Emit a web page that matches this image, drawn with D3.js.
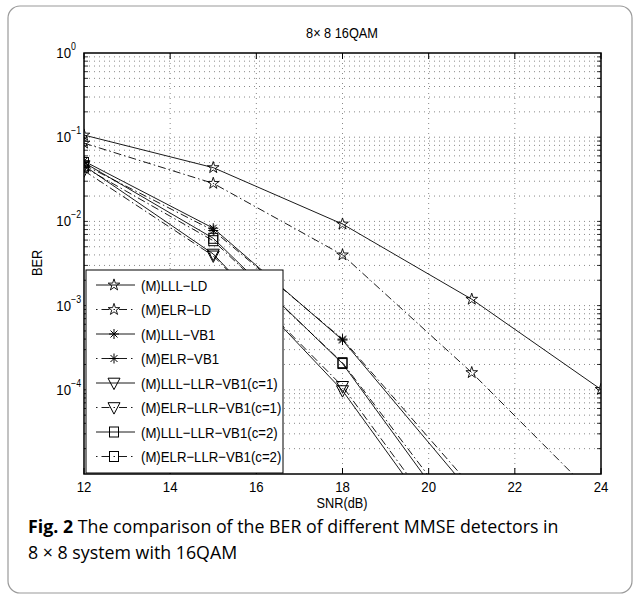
<!DOCTYPE html>
<html>
<head>
<meta charset="utf-8">
<script src="https://cdnjs.cloudflare.com/ajax/libs/d3/7.8.5/d3.min.js"></script>
<style>
  body { margin: 0; background: #fff; }
  svg text { font-family: "Liberation Sans", Arial, sans-serif; }
  svg text.cap { font-family: "Open Sans", "Noto Sans", sans-serif; }
</style>
</head>
<body>
<div class="canvas"></div>
<script>
var width = 635,
    height = 599;

// SNR points (dB)
var snr = [12, 15, 18, 21, 24];

// BER values
var lllLD      = [0.106, 0.0435, 0.0093, 0.00119, 1.01e-4];
var elrLD      = [0.085, 0.0283, 0.0040, 1.6e-4, 4.6e-6];
var lllVB1     = [0.052, 0.0083, 3.9e-4, 5.8e-6, 1e-7];
var elrVB1     = [0.047, 0.0078, 4.0e-4, 7.0e-6, 1e-7];
var lllLLRc1   = [0.046, 0.0041, 9.8e-5, 7.4e-7, 1e-8];
var elrLLRc1   = [0.040, 0.0039, 1.1e-4, 9.0e-7, 1e-8];
var lllLLRc2   = [0.050, 0.0063, 2.05e-4, 1.6e-6, 1e-8];
var elrLLRc2   = [0.044, 0.0059, 2.1e-4, 2.0e-6, 1e-8];

var names = ["(M)LLL\u2212LD", "(M)ELR\u2212LD", "(M)LLL\u2212VB1", "(M)ELR\u2212VB1",
             "(M)LLL\u2212LLR\u2212VB1(c=1)", "(M)ELR\u2212LLR\u2212VB1(c=1)",
             "(M)LLL\u2212LLR\u2212VB1(c=2)", "(M)ELR\u2212LLR\u2212VB1(c=2)"];
var series = [lllLD, elrLD, lllVB1, elrVB1, lllLLRc1, elrLLRc1, lllLLRc2, elrLLRc2];
var markers = ["star", "star", "asterisk", "asterisk", "tri", "tri", "square", "square"];
var dashed = [false, true, false, true, false, true, false, true];

var xTicks = [12, 14, 16, 18, 20, 22, 24];
var yTicks = [-4, -3, -2, -1, 0];

var svg = d3.select(".canvas").append("svg")
    .attr("width", width)
    .attr("height", height);

// condensed helper text (figure font looks narrow)
function ntext(g, tx, ty, size, str, anchor) {
    return g.append("text")
        .attr("transform", "translate(" + tx + "," + ty + ") scale(0.88,1)")
        .attr("text-anchor", anchor || "start")
        .attr("font-size", size)
        .text(str);
}

// outer frame
svg.append("rect")
    .attr("x", 8).attr("y", 6)
    .attr("width", 624).attr("height", 587)
    .attr("rx", 12)
    .attr("fill", "none")
    .attr("stroke", "#9a9a9a")
    .attr("stroke-width", 1.2);

var pl = 84, pr = 601, pt = 53, pb = 474;
var x = d3.scaleLinear().domain([12, 24]).range([pl, pr]);
var y = d3.scaleLog().domain([1e-5, 1]).range([pb, pt]);

svg.append("clipPath").attr("id", "plot")
    .append("rect")
    .attr("x", pl).attr("y", pt)
    .attr("width", pr - pl).attr("height", pb - pt);

// grid
var grid = svg.append("g");
var minor = [];
for (var e = -5; e < 0; e++) {
    for (var m = 1; m <= 9; m++) {
        if (m == 1 && e == -5) continue;
        minor.push(m * Math.pow(10, e));
    }
}
grid.selectAll(".hg").data(minor).enter().append("line")
    .attr("x1", pl).attr("x2", pr)
    .attr("y1", function(d) { return y(d); })
    .attr("y2", function(d) { return y(d); })
    .attr("stroke", "#555")
    .attr("stroke-width", 0.7)
    .attr("stroke-dasharray", "1,4");
grid.selectAll(".vg").data(xTicks.slice(1, -1)).enter().append("line")
    .attr("x1", function(d) { return x(d); })
    .attr("x2", function(d) { return x(d); })
    .attr("y1", pt).attr("y2", pb)
    .attr("stroke", "#555")
    .attr("stroke-width", 0.7)
    .attr("stroke-dasharray", "1,4");

// minor y ticks both sides
grid.selectAll(".myl").data(minor).enter().append("line")
    .attr("x1", pl).attr("x2", pl + 4)
    .attr("y1", function(d) { return y(d); })
    .attr("y2", function(d) { return y(d); })
    .attr("stroke", "#000").attr("stroke-width", 0.8);
grid.selectAll(".myr").data(minor).enter().append("line")
    .attr("x1", pr - 4).attr("x2", pr)
    .attr("y1", function(d) { return y(d); })
    .attr("y2", function(d) { return y(d); })
    .attr("stroke", "#000").attr("stroke-width", 0.8);

// x ticks top and bottom
grid.selectAll(".xtb").data(xTicks).enter().append("line")
    .attr("x1", function(d) { return x(d); })
    .attr("x2", function(d) { return x(d); })
    .attr("y1", pb).attr("y2", pb - 6)
    .attr("stroke", "#000").attr("stroke-width", 1);
grid.selectAll(".xtt").data(xTicks).enter().append("line")
    .attr("x1", function(d) { return x(d); })
    .attr("x2", function(d) { return x(d); })
    .attr("y1", pt).attr("y2", pt + 6)
    .attr("stroke", "#000").attr("stroke-width", 1);

// axes box
svg.append("rect")
    .attr("x", pl).attr("y", pt)
    .attr("width", pr - pl).attr("height", pb - pt)
    .attr("fill", "none")
    .attr("stroke", "#000")
    .attr("stroke-width", 1.5);

// tick labels
xTicks.forEach(function(d) {
    ntext(svg, x(d), 492, 15, d, "middle");
});
yTicks.forEach(function(d) {
    var yy = y(Math.pow(10, d));
    ntext(svg, 71, yy + 5, 15, "10", "end");
    ntext(svg, 71, yy - 3, 10, d == 0 ? "0" : "\u2212" + (-d));
});

ntext(svg, 342, 38, 14.5, "8\u00d7 8 16QAM", "middle");
ntext(svg, 342, 508, 14.5, "SNR(dB)", "middle");

svg.append("text")
    .attr("transform", "translate(42,263) rotate(-90) scale(0.88,1)")
    .attr("text-anchor", "middle")
    .attr("font-size", 14.5)
    .text("BER");

// marker drawing
function drawMarker(g, type, cx, cy) {
    if (type == "star") {
        g.append("path")
            .attr("d", d3.symbol().type(d3.symbolStar).size(42)())
            .attr("transform", "translate(" + cx + "," + cy + ")")
            .attr("fill", "none").attr("stroke", "#000").attr("stroke-width", 0.9);
    } else if (type == "asterisk") {
        var r = 5;
        var p = "M" + (cx - r) + "," + cy + "H" + (cx + r) +
                "M" + cx + "," + (cy - r) + "V" + (cy + r) +
                "M" + (cx - r * 0.7) + "," + (cy - r * 0.7) + "L" + (cx + r * 0.7) + "," + (cy + r * 0.7) +
                "M" + (cx - r * 0.7) + "," + (cy + r * 0.7) + "L" + (cx + r * 0.7) + "," + (cy - r * 0.7);
        g.append("path").attr("d", p)
            .attr("fill", "none").attr("stroke", "#000").attr("stroke-width", 1);
    } else if (type == "tri") {
        var s = 6;
        g.append("path")
            .attr("d", "M" + (cx - s) + "," + (cy - s * 0.8) + "H" + (cx + s) + "L" + cx + "," + (cy + s * 1.1) + "Z")
            .attr("fill", "none").attr("stroke", "#000").attr("stroke-width", 1);
    } else if (type == "square") {
        g.append("rect")
            .attr("x", cx - 4.5).attr("y", cy - 5)
            .attr("width", 9).attr("height", 10)
            .attr("fill", "none").attr("stroke", "#000").attr("stroke-width", 1);
    }
}

// lines
var line = d3.line()
    .x(function(d, i) { return x(snr[i]); })
    .y(function(d) { return y(d); });

var plot = svg.append("g").attr("clip-path", "url(#plot)");
series.forEach(function(s, k) {
    plot.append("path")
        .datum(s)
        .attr("d", line)
        .attr("fill", "none")
        .attr("stroke", "#000")
        .attr("stroke-width", 0.9)
        .attr("stroke-dasharray", dashed[k] ? "8,3,1.5,3" : null);
    s.forEach(function(v, i) {
        if (v >= 1e-5) drawMarker(plot, markers[k], x(snr[i]), y(v));
    });
});

// legend
var lg = svg.append("g");
lg.append("rect")
    .attr("x", 86).attr("y", 270)
    .attr("width", 197).attr("height", 203)
    .attr("fill", "#fff")
    .attr("stroke", "#000")
    .attr("stroke-width", 1);
names.forEach(function(n, k) {
    var ly = 285 + k * 24.5;
    lg.append("line")
        .attr("x1", 96).attr("x2", 135)
        .attr("y1", ly).attr("y2", ly)
        .attr("stroke", "#000")
        .attr("stroke-width", 0.9)
        .attr("stroke-dasharray", dashed[k] ? "1.5,4,8,4" : null);
    drawMarker(lg, markers[k], 114, ly);
    ntext(lg, 141, ly + 5.5, 15, n);
});

// caption
var cap = svg.append("text")
    .attr("class", "cap")
    .attr("x", 28).attr("y", 533)
    .attr("font-size", 17.8);
cap.append("tspan").attr("font-weight", "bold").text("Fig. 2");
cap.append("tspan").text(" The comparison of the BER of different MMSE detectors in");
svg.append("text")
    .attr("class", "cap")
    .attr("x", 28).attr("y", 559)
    .attr("font-size", 17.8)
    .text("8 \u00d7 8 system with 16QAM");
</script>
</body>
</html>
